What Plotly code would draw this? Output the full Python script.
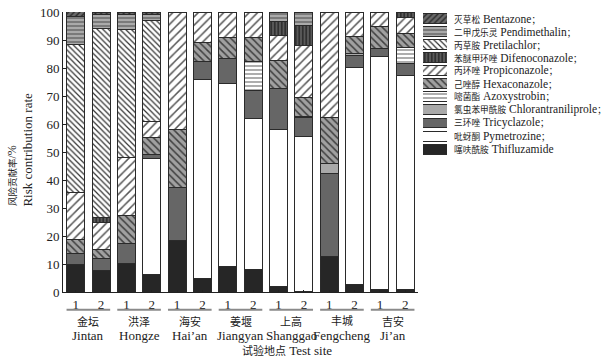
import plotly.graph_objects as go

# ---------------- data ----------------
sites_cn = ["金坛", "洪泽", "海安", "姜堰", "上高", "丰城", "吉安"]
sites_en = ["Jintan", "Hongze", "Hai\u2019an", "Jiangyan", "Shanggao", "Fengcheng", "Ji\u2019an"]
reps = ["1", "2"]
y_ticks = [0, 10, 20, 30, 40, 50, 60, 70, 80, 90, 100]

# stacking order bottom -> top
series_cn = ["噻呋酰胺", "吡蚜酮", "三环唑", "氯虫苯甲酰胺", "嘧菌酯", "己唑醇",
             "丙环唑", "苯醚甲环唑", "丙草胺", "二甲戊乐灵", "灭草松"]
series_en = ["Thifluzamide", "Pymetrozine", "Tricyclazole", "Chlorantraniliprole",
             "Azoxystrobin", "Hexaconazole", "Propiconazole", "Difenoconazole",
             "Pretilachlor", "Pendimethalin", "Bentazone"]

thifluzamide = [10.0, 7.8, 10.2, 6.3, 18.3, 4.8, 9.2, 8.0, 2.1, 0.3, 12.6, 2.8, 0.9, 1.0]
pymetrozine = [0, 0, 0, 41.5, 0, 71.1, 65.4, 53.9, 55.9, 55.4, 0, 77.4, 83.4, 76.5]
tricyclazole = [3.7, 4.2, 7.0, 1.4, 19.0, 6.4, 8.8, 10.0, 14.6, 6.5, 29.9, 4.4, 2.8, 4.3]
chlorantraniliprole = [0, 0, 0, 0, 0, 0, 0, 0, 0, 0.5, 3.5, 0.7, 0, 0]
azoxystrobin = [0, 0, 0, 0, 0, 0, 0, 10.5, 0, 0, 0, 0, 0, 5.6]
hexaconazole = [5.2, 3.2, 10.0, 5.9, 20.8, 6.7, 7.4, 8.7, 10.3, 6.7, 16.5, 6.0, 7.8, 4.9]
propiconazole = [16.5, 9.5, 21.0, 5.8, 41.9, 11.0, 9.2, 8.9, 8.8, 18.8, 37.5, 8.7, 5.1, 5.7]
difenoconazole = [0, 2.0, 0, 0, 0, 0, 0, 0, 5.0, 6.9, 0, 0, 0, 2.0]
pretilachlor = [53.0, 67.3, 45.5, 36.0, 0, 0, 0, 0, 0, 0, 0, 0, 0, 0]
pendimethalin = [10.2, 5.0, 5.3, 2.4, 0, 0, 0, 0, 3.3, 4.9, 0, 0, 0, 0]
bentazone = [1.5, 1.0, 1.0, 0.7, 0, 0, 0, 0, 0, 0, 0, 0, 0, 0]

values = [thifluzamide, pymetrozine, tricyclazole, chlorantraniliprole, azoxystrobin,
          hexaconazole, propiconazole, difenoconazole, pretilachlor, pendimethalin, bentazone]

# ---------------- styles ----------------
styles = [
    dict(color="#262626"),
    dict(color="#ffffff"),
    dict(color="#666666"),
    dict(color="#a9a9a9"),
    dict(color="#ffffff", pattern=dict(shape="-", bgcolor="#ffffff", fgcolor="#777777", size=4, solidity=0.3, fillmode="replace")),
    dict(color="#a0a0a0", pattern=dict(shape="\\", bgcolor="#a0a0a0", fgcolor="#404040", size=5, solidity=0.3, fillmode="replace")),
    dict(color="#ffffff", pattern=dict(shape="/", bgcolor="#ffffff", fgcolor="#555555", size=6, solidity=0.25, fillmode="replace")),
    dict(color="#555555", pattern=dict(shape="|", bgcolor="#5a5a5a", fgcolor="#1e1e1e", size=3.5, solidity=0.35, fillmode="replace")),
    dict(color="#ffffff", pattern=dict(shape="\\", bgcolor="#ffffff", fgcolor="#333333", size=4, solidity=0.3, fillmode="replace")),
    dict(color="#a8a8a8", pattern=dict(shape="-", bgcolor="#aaaaaa", fgcolor="#5a5a5a", size=4, solidity=0.3, fillmode="replace")),
    dict(color="#6a6a6a", pattern=dict(shape="/", bgcolor="#6a6a6a", fgcolor="#2a2a2a", size=4, solidity=0.35, fillmode="replace")),
]

FONT = "Liberation Serif, 'Noto Sans CJK SC'"
TXT = "#222222"


def cjk(s, size):
    return f'<span style="font-size:{size}px">{s}</span>'


bar_ids = [f"{en}-{r}" for en in sites_en for r in reps]
tick_text = [r for _ in sites_en for r in reps]
legend_keys = list(series_en)
legend_texts = [cjk(cn, 8.7) + " " + en + ("" if en == "Thifluzamide" else cjk("；", 8.7))
                for cn, en in zip(series_cn, series_en)]

fig = go.Figure()
for name, vals, st in zip(series_en, values, styles):
    y = [v if v > 0 else None for v in vals]
    fig.add_trace(go.Bar(
        x=bar_ids, y=y, name=name, width=0.71, showlegend=False,
        marker=dict(line=dict(color="#2a2a2a", width=1), **st),
        xaxis="x", yaxis="y"))

# custom legend drawn on a second pair of axes
for name, st in zip(legend_keys, styles):
    fig.add_trace(go.Bar(
        y=[name], x=[1], base=0, orientation="h", width=0.76, showlegend=False,
        marker=dict(line=dict(color="#2a2a2a", width=1), **st),
        xaxis="x2", yaxis="y2", hoverinfo="skip"))

annotations = []
for key, txt in zip(legend_keys, legend_texts):
    annotations.append(dict(xref="paper", yref="y2", x=0.7177, y=key, text=txt,
                            xanchor="left", yanchor="middle", showarrow=False,
                            font=dict(size=11.5, family=FONT, color=TXT)))

shapes = []
n_rep = len(reps)
for g, (cn, en) in enumerate(zip(sites_cn, sites_en)):
    mid = g * n_rep + (n_rep - 1) / 2
    annotations.append(dict(xref="x", yref="paper", x=mid, y=-0.105, text=cjk(cn, 11),
                            showarrow=False, yanchor="middle",
                            font=dict(size=13, family=FONT, color=TXT)))
    annotations.append(dict(xref="x", yref="paper", x=mid, y=-0.155, text=en,
                            showarrow=False, yanchor="middle",
                            font=dict(size=13, family=FONT, color=TXT)))
    shapes.append(dict(type="line", xref="x", yref="paper",
                       x0=g * n_rep - 0.36, x1=g * n_rep + n_rep - 1 + 0.36,
                       y0=-0.063, y1=-0.063, line=dict(color="#8a8a8a", width=2)))

annotations.append(dict(xref="paper", yref="paper", x=0.3266, y=-0.21,
                        text=cjk("试验地点", 11) + " Test site", showarrow=False,
                        yanchor="middle", font=dict(size=13, family=FONT, color=TXT)))
annotations.append(dict(xref="paper", yref="paper", x=-0.094, y=0.298,
                        text=cjk("风险贡献率", 9.5) + "/%", showarrow=False, textangle=-90,
                        xanchor="center", yanchor="bottom",
                        font=dict(size=12, family=FONT, color=TXT)))
annotations.append(dict(xref="paper", yref="paper", x=-0.0646, y=0.298,
                        text="Risk contribution rate", showarrow=False, textangle=-90,
                        xanchor="center", yanchor="bottom",
                        font=dict(size=13, family=FONT, color=TXT)))

fig.update_layout(
    width=610, height=364,
    margin=dict(l=63, r=5, t=7, b=72),
    barmode="stack",
    plot_bgcolor="white", paper_bgcolor="white",
    font=dict(family=FONT, size=13, color=TXT),
    xaxis=dict(domain=[0, 0.655], type="category", categoryorder="array",
               categoryarray=bar_ids, tickvals=bar_ids, ticktext=tick_text,
               range=[-0.5, len(bar_ids) - 0.5], ticks="inside", ticklen=2,
               tickcolor=TXT, showline=True, linecolor=TXT, linewidth=1,
               showgrid=False, zeroline=False, tickfont=dict(size=13)),
    yaxis=dict(range=[0, 100.05], tickmode="array", tickvals=y_ticks,
               ticktext=[str(t) for t in y_ticks], ticks="inside", ticklen=3,
               ticklabeloverflow="allow",
               tickcolor=TXT, showline=True, linecolor=TXT, linewidth=1,
               showgrid=False, zeroline=False, tickfont=dict(size=13)),
    xaxis2=dict(domain=[0.6642, 0.7085], range=[0, 1], visible=False,
                anchor="y2", fixedrange=True),
    yaxis2=dict(domain=[0.487, 1.0], type="category", categoryorder="array",
                categoryarray=legend_keys, range=[-0.5, len(legend_keys) - 0.5],
                visible=False, anchor="x2", fixedrange=True),
    annotations=annotations,
    shapes=shapes,
    showlegend=False,
)

fig.write_html("out.html", config={"displayModeBar": False},
               post_script="document.body.style.margin='0px';document.body.style.overflow='hidden';")
